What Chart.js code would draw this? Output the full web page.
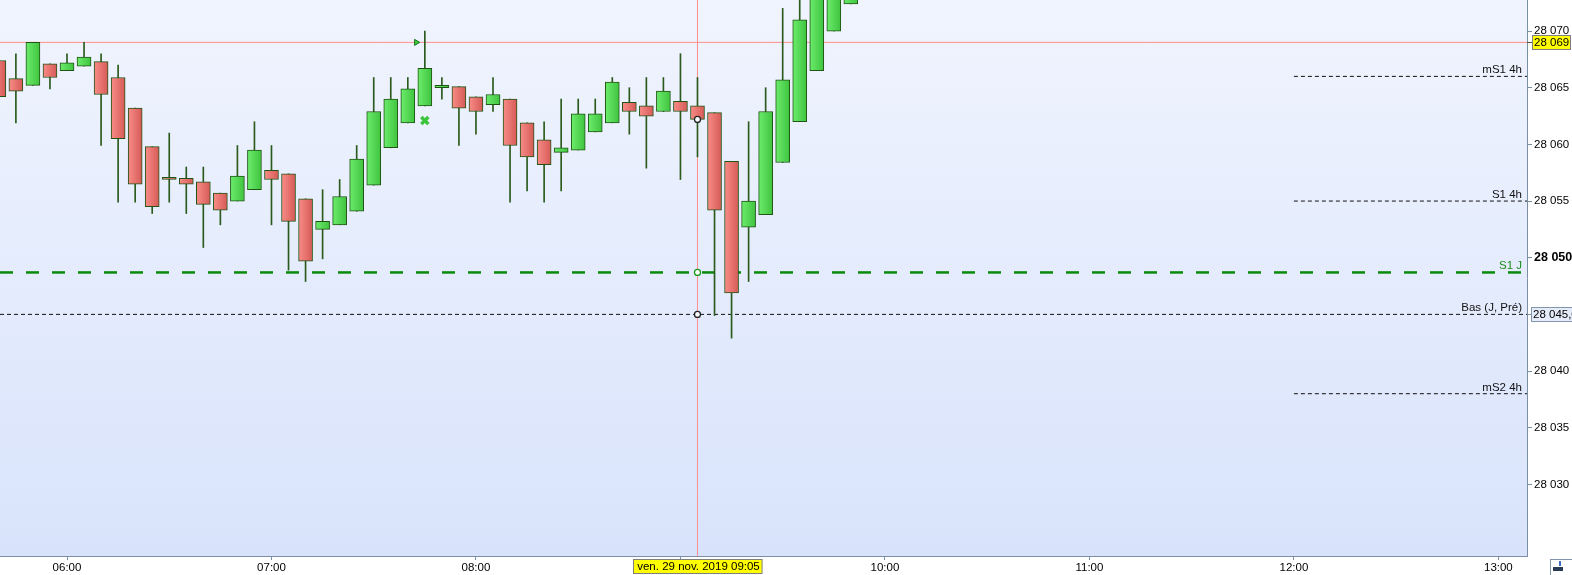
<!DOCTYPE html>
<html>
<head>
<meta charset="utf-8">
<script src="https://cdn.jsdelivr.net/npm/chart.js@4.4.1/dist/chart.umd.min.js"></script>
<style>
  html, body { margin: 0; padding: 0; background: #fff; }
  #wrap { width: 1572px; height: 575px; }
</style>
</head>
<body>
<div id="wrap"><canvas id="chart"></canvas></div>
<script>
// 5 minute candles, ven. 29 nov. 2019
const times = ['05:40','05:45','05:50','05:55',
  '06:00','06:05','06:10','06:15','06:20','06:25','06:30','06:35','06:40','06:45','06:50','06:55',
  '07:00','07:05','07:10','07:15','07:20','07:25','07:30','07:35','07:40','07:45','07:50','07:55',
  '08:00','08:05','08:10','08:15','08:20','08:25','08:30','08:35','08:40','08:45','08:50','08:55',
  '09:00','09:05','09:10','09:15','09:20','09:25','09:30','09:35','09:40','09:45','09:50'];

const opens = [28067.4, 28065.8, 28065.2, 28067.1,
  28066.5, 28066.9, 28067.3, 28065.9, 28063.2, 28059.8, 28057.1, 28057.0, 28056.7, 28055.7, 28055.0, 28056.0,
  28057.7, 28057.4, 28055.2, 28052.5, 28052.9, 28054.1, 28056.4, 28059.7, 28061.9, 28063.4, 28065.0, 28065.1,
  28064.2, 28063.5, 28064.0, 28061.9, 28060.4, 28059.3, 28059.5, 28061.1, 28061.9, 28063.7, 28063.4, 28062.9,
  28063.8, 28063.4, 28062.8, 28058.5, 28052.7, 28053.8, 28058.4, 28062.0, 28066.5, 28070.0, 28072.4];

const highs = [28068.0, 28068.0, 28069.0, 28067.1,
  28068.0, 28069.0, 28068.0, 28067.0, 28063.2, 28059.8, 28061.0, 28058.0, 28058.0, 28055.7, 28059.9, 28062.0,
  28059.9, 28057.4, 28055.2, 28056.0, 28056.9, 28059.9, 28065.9, 28065.9, 28065.9, 28070.0, 28065.9, 28065.1,
  28064.2, 28065.9, 28064.0, 28061.9, 28062.0, 28064.0, 28064.0, 28064.0, 28065.9, 28065.0, 28065.9, 28065.9,
  28068.0, 28065.9, 28062.8, 28058.5, 28062.0, 28065.0, 28072.0, 28074.0, 28076.0, 28076.0, 28076.0];

const lows = [28063.5, 28061.9, 28065.2, 28064.9,
  28066.5, 28066.9, 28059.9, 28054.9, 28054.9, 28053.9, 28054.9, 28053.9, 28050.9, 28052.9, 28055.0, 28056.0,
  28052.9, 28048.9, 28047.9, 28049.9, 28052.9, 28054.1, 28056.4, 28059.7, 28061.9, 28063.4, 28064.0, 28059.9,
  28060.9, 28062.9, 28054.9, 28055.9, 28054.9, 28055.9, 28059.5, 28061.1, 28061.9, 28060.9, 28057.9, 28062.9,
  28056.9, 28058.9, 28044.9, 28042.9, 28047.9, 28053.8, 28058.4, 28062.0, 28066.5, 28070.0, 28072.4];

const closes = [28064.2, 28064.7, 28069.0, 28065.9,
  28067.2, 28067.7, 28064.4, 28060.5, 28056.5, 28054.5, 28056.9, 28056.5, 28054.7, 28054.2, 28057.2, 28059.5,
  28056.9, 28053.2, 28049.7, 28053.2, 28055.4, 28058.7, 28062.9, 28064.0, 28064.9, 28066.7, 28065.2, 28063.2,
  28062.9, 28064.4, 28059.9, 28058.9, 28058.2, 28059.7, 28062.7, 28062.7, 28065.5, 28062.9, 28062.5, 28064.7,
  28062.9, 28062.2, 28054.2, 28046.9, 28055.0, 28062.9, 28065.7, 28071.0, 28074.0, 28075.0, 28075.5];

// support levels
const levelNames  = ['mS1 4h', 'S1 4h', 'S1 J', 'Bas (J, Pré)', 'mS2 4h'];
const levelValues = [28066, 28055, 28048.7, 28045, 28038];
const levelStarts = ['12:00', '12:00', null, null, '12:00'];

// crosshair + signals
const cursorTime = '09:05';
const cursorPrice = 28069;
const cursorLabel = 'ven. 29 nov. 2019 09:05';
const crossSignal = {time: '07:45', price: 28062.1};
const arrowSignal = {time: '07:42.5', price: 28069.0};

const xMin = 340.34, xMax = 788.4;
const yMin = 28023.68, yMax = 28072.74;

function toMin(s) {
  const p = s.split(':');
  return Number(p[0]) * 60 + Number(p[1]);
}
function fmtPrice(v) {
  return String(v).replace(/\B(?=(\d{3})+(?!\d))/g, ' ');
}
function fmtTime(v) {
  const h = Math.floor(v / 60), m = Math.round(v % 60);
  return String(h).padStart(2, '0') + ':' + String(m).padStart(2, '0');
}

const FONT = "'Liberation Sans', Arial, sans-serif";
const AXIS = '#7b8fa3';
const WICK = '#2a5a1c';

function bodyFill(ctx) {
  if (ctx.type !== 'data') return '#888';
  const i = ctx.dataIndex;
  const up = closes[i] >= opens[i];
  const chart = ctx.chart;
  const xs = chart.scales.x;
  if (!xs || !chart.chartArea) return up ? '#55dd55' : '#ee7777';
  const px = xs.getPixelForValue(toMin(times[i]));
  const g = chart.ctx.createLinearGradient(px - 7, 0, px + 7, 0);
  if (up) { g.addColorStop(0, '#6cec6c'); g.addColorStop(1, '#3fc43f'); }
  else { g.addColorStop(0, '#f88c88'); g.addColorStop(1, '#d65a56'); }
  return g;
}

const bodies = {
  type: 'bar',
  data: times.map((t, i) => ({x: toMin(t), y: [opens[i], closes[i]]})),
  backgroundColor: bodyFill,
  borderColor: '#1f5514',
  borderWidth: 1,
  borderSkipped: false,
  barThickness: 14,
  grouped: false,
  order: 1
};

const wicks = {
  type: 'bar',
  data: times.map((t, i) => ({x: toMin(t), y: [lows[i], highs[i]]})),
  backgroundColor: WICK,
  borderWidth: 0,
  barThickness: 1,
  grouped: false,
  order: 2
};

const levelStyles = [
  {color: '#111', dash: [4, 3], width: 1},
  {color: '#111', dash: [4, 3], width: 1},
  {color: '#0a8a0a', dash: [13, 13], width: 2.5},
  {color: '#111', dash: [4, 3], width: 1},
  {color: '#111', dash: [4, 3], width: 1}
];

const levelSets = levelValues.map((v, i) => ({
  type: 'line',
  data: [{x: levelStarts[i] ? toMin(levelStarts[i]) : xMin, y: v}, {x: xMax, y: v}],
  borderColor: levelStyles[i].color,
  borderDash: levelStyles[i].dash,
  borderWidth: levelStyles[i].width,
  pointRadius: 0,
  order: 4
}));

const crossH = {
  type: 'line',
  data: [{x: xMin, y: cursorPrice}, {x: xMax, y: cursorPrice}],
  borderColor: '#ff8f8f', borderWidth: 1, pointRadius: 0, order: 3
};
const crossV = {
  type: 'line',
  data: [{x: toMin(cursorTime), y: yMin}, {x: toMin(cursorTime), y: yMax}],
  borderColor: '#ff8f8f', borderWidth: 1, pointRadius: 0, order: 3
};

const ci = times.indexOf(cursorTime);
const cursorDots = {
  type: 'line',
  showLine: false,
  data: [{x: toMin(cursorTime), y: closes[ci]}, {x: toMin(cursorTime), y: levelValues[2]}, {x: toMin(cursorTime), y: levelValues[3]}],
  pointRadius: 3,
  pointBorderWidth: 1.3,
  pointBackgroundColor: '#ffffff',
  pointBorderColor: ['#222', '#1a9a1a', '#222'],
  order: 0
};

const signalCross = {
  type: 'line',
  showLine: false,
  data: [{x: toMin(crossSignal.time), y: crossSignal.price}],
  pointStyle: 'crossRot',
  pointRadius: 5,
  pointBorderWidth: 3.5,
  pointBorderColor: '#3cc43c',
  order: 0
};
const signalArrow = {
  type: 'line',
  showLine: false,
  data: [{x: toMin(arrowSignal.time), y: arrowSignal.price}],
  pointStyle: 'triangle',
  rotation: 90,
  pointRadius: 3.5,
  pointBorderWidth: 1,
  pointBackgroundColor: '#3cc43c',
  pointBorderColor: '#1f7a1f',
  order: 0
};

const decor = {
  id: 'decor',
  beforeDraw(chart) {
    const {ctx, chartArea: a} = chart;
    const g = ctx.createLinearGradient(0, a.top, 0, a.bottom);
    g.addColorStop(0, '#f0f4fe');
    g.addColorStop(1, '#d8e3fb');
    ctx.save();
    ctx.fillStyle = g;
    ctx.fillRect(a.left, a.top, a.right - a.left, a.bottom - a.top);
    ctx.restore();
  },
  afterDraw(chart) {
    const {ctx, chartArea: a, scales} = chart;
    const ys = scales.y, xs = scales.x;
    ctx.save();
    ctx.font = '11.5px ' + FONT;
    ctx.textBaseline = 'alphabetic';
    ctx.textAlign = 'right';
    levelNames.forEach((name, i) => {
      ctx.fillStyle = i === 2 ? '#1a8a1a' : '#111';
      ctx.fillText(name, a.right - 5, ys.getPixelForValue(levelValues[i]) - 3);
    });

    // price box for cursor
    ctx.textAlign = 'left';
    ctx.textBaseline = 'middle';
    let py = Math.round(ys.getPixelForValue(cursorPrice)) + 0.5;
    ctx.strokeStyle = '#555';
    ctx.beginPath(); ctx.moveTo(a.right, py); ctx.lineTo(a.right + 5, py); ctx.stroke();
    ctx.fillStyle = '#ffff00';
    ctx.fillRect(a.right + 5.5, py - 7, 38, 14);
    ctx.strokeStyle = '#7f7f7f';
    ctx.strokeRect(a.right + 5.5, py - 7, 38, 14);
    ctx.fillStyle = '#000';
    ctx.fillText(fmtPrice(cursorPrice), a.right + 7, py + 0.5);

    // box for previous low
    py = Math.round(ys.getPixelForValue(levelValues[3])) + 0.5;
    ctx.fillStyle = '#e4ecfa';
    ctx.fillRect(a.right + 4.5, py - 7, 60, 14);
    ctx.strokeStyle = '#8496ad';
    ctx.strokeRect(a.right + 4.5, py - 7, 60, 14);
    ctx.fillStyle = '#000';
    ctx.fillText(fmtPrice(levelValues[3]) + ',0', a.right + 6, py + 0.5);

    // date box
    const px = xs.getPixelForValue(toMin(cursorTime));
    ctx.textAlign = 'center';
    const w = ctx.measureText(cursorLabel).width + 6;
    ctx.fillStyle = '#ffff00';
    ctx.fillRect(Math.round(px - w / 2) + 0.5, a.bottom + 3.5, w, 14);
    ctx.strokeStyle = '#7f7f7f';
    ctx.strokeRect(Math.round(px - w / 2) + 0.5, a.bottom + 3.5, w, 14);
    ctx.fillStyle = '#000';
    ctx.fillText(cursorLabel, px + 1, a.bottom + 11);

    // small icon bottom right
    ctx.strokeStyle = '#8496ad';
    ctx.strokeRect(1550.5, 559.5, 24, 18);
    ctx.fillStyle = '#2a3a55';
    ctx.fillRect(1553, 567, 10, 4);
    ctx.fillStyle = '#3a6fc4';
    ctx.fillRect(1559, 561, 2, 5);
    ctx.restore();
  }
};

new Chart(document.getElementById('chart'), {
  type: 'bar',
  data: {
    datasets: [bodies, wicks, ...levelSets, crossH, crossV, cursorDots, signalCross, signalArrow]
  },
  options: {
    responsive: true,
    maintainAspectRatio: false,
    animation: false,
    layout: {padding: 0, autoPadding: false},
    plugins: {legend: {display: false}, tooltip: {enabled: false}},
    scales: {
      x: {
        type: 'linear',
        min: xMin,
        max: xMax,
        offset: false,
        grid: {offset: false, drawOnChartArea: false, tickLength: 4, tickColor: AXIS},
        border: {color: AXIS, width: 1},
        ticks: {
          stepSize: 60,
          includeBounds: false,
          autoSkip: false,
          maxRotation: 0,
          padding: 1,
          color: '#000',
          font: {family: FONT, size: 11.5},
          callback: v => fmtTime(v)
        },
        afterFit: s => { s.height = 19; s.paddingLeft = 0; s.paddingRight = 0; }
      },
      y: {
        type: 'linear',
        position: 'right',
        min: yMin,
        max: yMax,
        grid: {drawOnChartArea: false, tickLength: 5, tickColor: AXIS},
        border: {color: AXIS, width: 1},
        ticks: {
          stepSize: 5,
          includeBounds: false,
          padding: 2,
          color: '#000',
          font: c => ({family: FONT, size: c.tick && c.tick.value === 28050 ? 12.5 : 11.5, weight: c.tick && c.tick.value === 28050 ? 'bold' : 'normal'}),
          callback: v => (v < 28028 ? null : fmtPrice(v))
        },
        afterFit: s => { s.width = 45; s.paddingTop = 0; s.paddingBottom = 0; }
      }
    }
  },
  plugins: [decor]
});
</script>
</body>
</html>
